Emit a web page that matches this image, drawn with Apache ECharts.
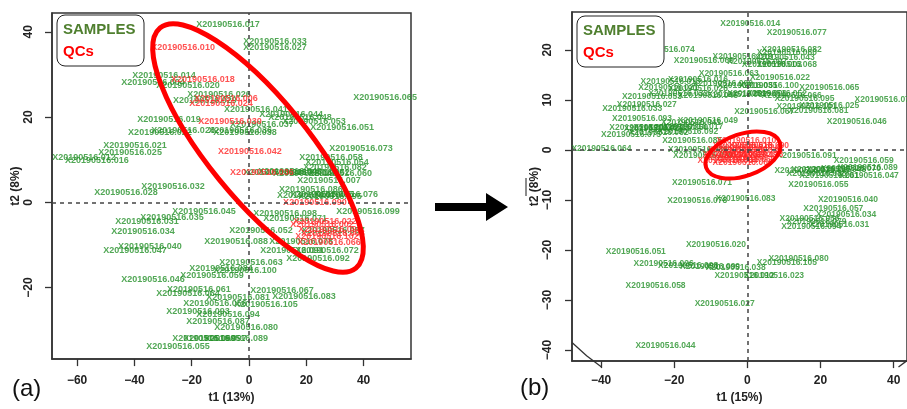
<!DOCTYPE html>
<html><head><meta charset="utf-8">
<script src="https://cdn.jsdelivr.net/npm/echarts@6/dist/echarts.min.js"></script>
<style>html,body{margin:0;padding:0;background:#fff}#c{width:907px;height:409px}</style>
</head><body><div id="c"></div>
<script>
const PREFIX = 'X20190516.';
// ---------- Panel (a) ----------
const aSampleIds = ['017','033','027','014','004','020','026','029','041','044','048','053','051','065','019','037','022','023','038','036','021','025','012','016','032','028','045','035','031','034','040','047','073','058','054','082','015','043','049','062','060','007','086','070','085','095','076','099','098','071','052','057','088','078','072','091','092','063','100','084','059','046','067','083','061','064','081','056','105','093','094','087','080','069','097','089','055'];
const aSampleT1 = [-7.3,9.1,9.1,-29.7,-33.5,-21.3,-10.5,-15.4,2.4,14.7,17.8,22.7,32.5,47.5,-27.9,4.5,-31.1,-23.0,-1.4,-3.1,-39.8,-41.5,-57.6,-53.1,-26.5,-42.9,-15.7,-26.9,-35.6,-37.0,-34.6,-39.8,39.1,28.6,30.7,30.0,9.1,14.3,19.5,24.1,31.8,27.9,21.6,20.9,25.5,28.3,33.9,41.5,12.6,16.1,4.2,29.3,-4.5,18.2,27.2,15.0,24.1,0.7,-1.4,-9.8,-12.9,-33.5,11.5,19.2,-17.5,-21.3,-3.8,-11.9,5.9,-17.8,-7.3,-10.8,-1.0,-15.7,-11.9,-4.5,-24.8];
const aSampleT2 = [41.7,37.6,36.2,29.8,28.2,27.5,25.2,23.9,21.8,20.7,19.8,18.9,17.5,24.6,19.5,18.2,16.4,16.8,16.4,16.8,13.4,11.6,10.4,9.7,3.6,2.2,-2.1,-3.5,-4.6,-6.9,-10.3,-11.2,12.5,10.6,9.3,8.1,7.0,7.2,6.8,7.0,6.8,5.2,2.9,1.5,1.8,1.3,1.8,-2.1,-2.6,-3.9,-6.7,-6.7,-9.2,-9.2,-11.2,-11.2,-13.3,-14.2,-16.0,-15.6,-17.2,-18.1,-20.6,-22.2,-20.4,-21.3,-22.4,-23.8,-24.0,-25.6,-26.3,-27.9,-29.3,-32.0,-32.0,-32.0,-33.8];
const aQcIds = ['010','018','024','006','030','042','036','090','022','002','096','008','102','066'];
const aQcT1 = [-23.0,-16.1,-9.8,-8.0,-6.6,0.3,4.5,23.0,26.5,25.5,28.3,29.3,27.2,27.9];
const aQcT2 = [36.2,28.9,23.2,24.3,18.9,12.0,7.0,-0.1,-4.4,-5.3,-6.5,-7.4,-8.1,-9.4];
const aXTicks = [-60,-40,-20,0,20,40];
const aYTicks = [-20,0,20,40];
// ---------- Panel (b) ----------
const bSampleIds = ['014','077','074','082','060','043','069','019','097','003','068','063','022','013','016','021','028','009','035','100','065','053','032','045','087','001','052','066','095','073','025','101','081','067','046','041','027','033','093','049','011','029','037','050','017','075','062','092','085','064','086','039','071','091','059','072','015','048','070','089','088','061','047','055','083','078','040','057','034','056','079','031','094','020','051','080','105','026','098','099','038','012','023','058','027','044'];
const bSampleT1 = [0.8,13.5,-22.6,12.1,10.8,10.2,-11.9,-1.3,2.7,6.7,10.8,-5.1,8.9,-21.0,-13.5,-21.6,-13.5,-6.7,0.0,5.9,22.4,-26.1,-18.9,-10.8,-2.7,2.7,8.1,12.1,15.6,37.5,22.4,16.2,19.4,4.6,29.9,-15.4,-27.5,-31.5,-28.8,-10.8,-29.6,-25.6,-22.9,-18.9,-14.8,-31.8,-24.3,-16.2,-15.1,-39.9,-13.5,-12.1,-12.4,16.2,31.8,15.6,20.2,24.3,28.3,32.9,18.9,22.4,33.2,19.4,-0.5,-13.7,27.5,23.5,27.0,17.0,18.9,25.1,17.5,-8.6,-30.5,14.0,10.8,-22.9,-16.2,-10.2,-3.2,-0.8,7.3,-25.1,-6.2,-22.4];
const bSampleT2 = [25.2,23.4,20.1,20.1,19.5,18.5,17.9,18.7,17.7,17.1,17.0,15.2,14.4,13.6,14.0,12.4,12.2,13.2,12.8,12.8,12.4,10.7,11.3,10.9,11.1,11.3,11.3,10.9,10.3,10.1,8.9,8.7,7.9,7.7,5.6,5.4,9.1,8.3,6.3,5.8,4.4,4.2,4.4,4.4,4.6,3.0,3.4,3.6,1.8,0.3,0.1,-1.1,-6.6,-1.1,-2.1,-4.1,-3.9,-3.9,-3.7,-3.5,-4.7,-5.1,-5.1,-7.0,-9.8,-10.2,-10.0,-11.7,-12.9,-13.7,-14.3,-14.9,-15.3,-19.0,-20.4,-21.8,-22.5,-22.7,-23.1,-23.3,-23.5,-25.1,-25.1,-27.1,-30.8,-39.2];
const bQcIds = ['010','018','024','030','036','042','048','054','060','066','072','078','084','090'];
const bQcT1 = [-0.3,-1.3,0.5,-2.7,1.3,-2.2,0.0,-3.5,-0.5,-1.3,-4.0,1.6,-5.4,3.2];
const bQcT2 = [1.8,0.8,0.5,0.1,-0.1,-0.7,-1.1,-1.5,-1.9,-2.5,-0.9,-0.9,-2.1,0.8];
const bXTicks = [-40,-20,0,20,40];
const bYTicks = [-40,-30,-20,-10,0,10,20];

const FONT = '"Liberation Sans", Arial, Helvetica, sans-serif';
const GREEN = '#25912a', RED = '#ff2525';
function pts(ids, t1, t2) { return ids.map((id, i) => ({ name: PREFIX + id, value: [t1[i], t2[i]] })); }
const minusFmt = v => String(v).replace('-', '\u2212');

function xAx(gi, min, max, ticks, name, margin, gap) {
  return {
    type: 'value', gridIndex: gi, min, max, position: 'bottom',
    name, nameLocation: 'middle', nameGap: gap,
    nameTextStyle: { fontFamily: FONT, fontWeight: 'bold', fontSize: 12, color: '#222' },
    axisLine: { show: true, onZero: false, lineStyle: { color: '#333', width: 1.5 } },
    splitLine: { show: false },
    axisTick: { show: true, length: 7, customValues: ticks, lineStyle: { color: '#333', width: 1.3 } },
    axisLabel: { customValues: ticks, margin, formatter: minusFmt, fontFamily: FONT, fontWeight: 'bold', fontSize: 12, color: '#222' }
  };
}
function yAx(gi, min, max, ticks, name, margin, gap) {
  return {
    type: 'value', gridIndex: gi, min, max, position: 'left',
    name, nameLocation: 'middle', nameGap: gap, nameRotate: 90,
    nameTextStyle: { fontFamily: FONT, fontWeight: 'bold', fontSize: 12, color: '#222' },
    axisLine: { show: true, onZero: false, lineStyle: { color: '#333', width: 1.5 } },
    splitLine: { show: false },
    axisTick: { show: true, length: 7, customValues: ticks, lineStyle: { color: '#333', width: 1.3 } },
    axisLabel: { customValues: ticks, margin, rotate: 90, formatter: minusFmt, fontFamily: FONT, fontWeight: 'bold', fontSize: 12, color: '#222' }
  };
}
function labelSeries(gi, data, color, fs, z, withLines) {
  const s = {
    type: 'scatter', xAxisIndex: gi, yAxisIndex: gi, data, symbolSize: 1, z,
    itemStyle: { color: 'rgba(0,0,0,0)' }, silent: true, animation: false,
    label: { show: true, position: 'inside', formatter: '{b}', color, fontSize: fs, fontFamily: FONT, fontWeight: 'bold' },
    labelLayout: { hideOverlap: false },
    emphasis: { disabled: true }
  };
  if (withLines) {
    s.markLine = {
      silent: true, symbol: ['none', 'none'], label: { show: false }, animation: false,
      lineStyle: { type: [4, 4], color: '#444', width: 1.5 },
      data: [{ xAxis: 0 }, { yAxis: 0 }]
    };
  }
  return s;
}
function legendBox(x, y) {
  return [
    { type: 'rect', z: 100, shape: { x, y, width: 87, height: 51, r: 8 }, style: { fill: '#fff', stroke: '#222', lineWidth: 1 } },
    { type: 'text', z: 101, style: { text: 'SAMPLES', x: x + 6, y: y + 15, fill: '#4f7f2f', font: 'bold 15px ' + FONT, textVerticalAlign: 'middle', verticalAlign: 'middle' } },
    { type: 'text', z: 101, style: { text: 'QCs', x: x + 6, y: y + 37, fill: '#ff0000', font: 'bold 15px ' + FONT, textVerticalAlign: 'middle', verticalAlign: 'middle' } }
  ];
}

const chart = echarts.init(document.getElementById('c'), null, { renderer: 'canvas' });
chart.setOption({
  animation: false,
  backgroundColor: '#fff',
  grid: [
    { left: 52, top: 13, width: 359, height: 356, show: true, borderColor: '#333', borderWidth: 1.5, backgroundColor: 'transparent' },
    { left: 572, top: 12, width: 340, height: 355, show: true, borderColor: '#333', borderWidth: 1.5, backgroundColor: 'transparent' }
  ],
  xAxis: [
    xAx(0, -68.76, 56.54, aXTicks, 't1 (13%)', 16, 31),
    xAx(1, -47.95, 43.64, bXTicks, 't1 (15%)', 14, 29)
  ],
  yAxis: [
    yAx(0, -36.78, 44.40, aYTicks, 't2 (8%)', 17, 19),
    yAx(1, -42.20, 27.57, bYTicks, 't2 (8%)', 18, 27)
  ],
  series: [
    labelSeries(0, pts(aSampleIds, aSampleT1, aSampleT2), GREEN, 9, 2, true),
    labelSeries(0, pts(aQcIds, aQcT1, aQcT2), RED, 9, 3, false),
    labelSeries(1, pts(bSampleIds, bSampleT1, bSampleT2), GREEN, 8.5, 2, true),
    labelSeries(1, pts(bQcIds, bQcT1, bQcT2), RED, 8.5, 3, false)
  ],
  graphic: [
    ...legendBox(57, 15),
    ...legendBox(577, 16),
    { type: 'ellipse', z: 90, x: 258, y: 148, rotation: -0.887, shape: { cx: 0, cy: 0, rx: 155, ry: 50 }, style: { fill: 'none', stroke: '#ff0000', lineWidth: 5 } },
    { type: 'ellipse', z: 90, x: 743, y: 155, rotation: 0.33, shape: { cx: 0, cy: 0, rx: 39, ry: 21 }, style: { fill: 'none', stroke: '#ff0000', lineWidth: 4 } },
    { type: 'polyline', z: 50, shape: { points: [[572, 342.6], [586.6, 355.8], [601.5, 367]] }, style: { stroke: '#333', lineWidth: 1.3, fill: 'none' } },
    { type: 'polyline', z: 50, shape: { points: [[898.5, 367], [912, 356.8]] }, style: { stroke: '#333', lineWidth: 1.3, fill: 'none' } },
    { type: 'polygon', z: 50, shape: { points: [[435, 203], [486, 203], [486, 193], [508, 207], [486, 221], [486, 211], [435, 211]] }, style: { fill: '#000' } },
    { type: 'line', z: 50, shape: { x1: 526, y1: 178, x2: 526, y2: 196 }, style: { stroke: '#666', lineWidth: 1.5 } },
    { type: 'text', z: 50, style: { text: '(a)', x: 12, y: 389, fill: '#111', font: '24px ' + FONT, textVerticalAlign: 'middle', verticalAlign: 'middle' } },
    { type: 'text', z: 50, style: { text: '(b)', x: 520, y: 388, fill: '#111', font: '24px ' + FONT, textVerticalAlign: 'middle', verticalAlign: 'middle' } }
  ]
});
</script></body></html>
